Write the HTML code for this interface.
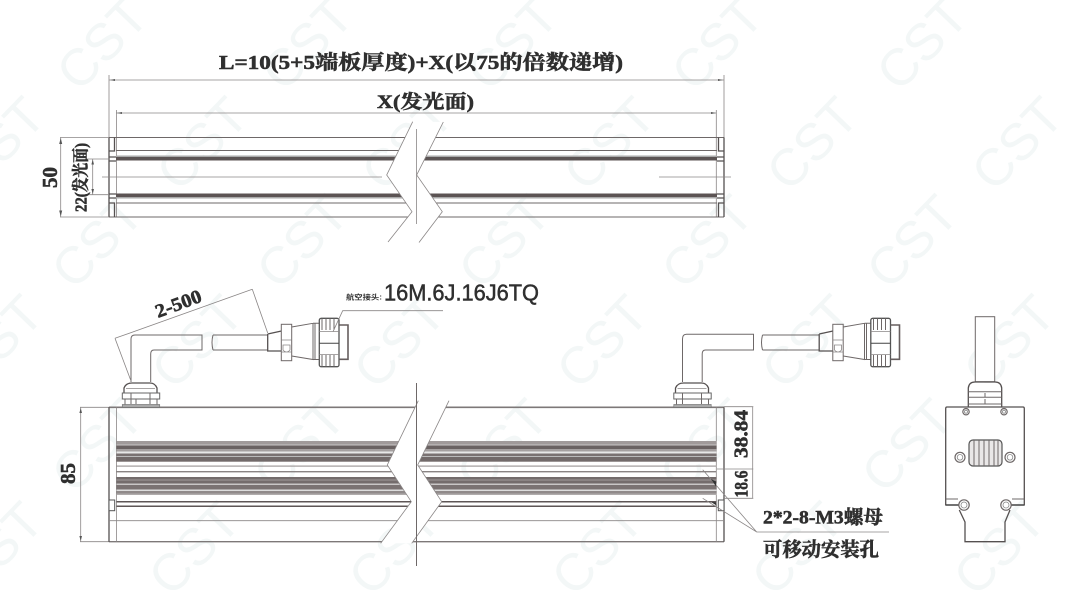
<!DOCTYPE html>
<html>
<head>
<meta charset="utf-8">
<style>
html,body{margin:0;padding:0;background:#fff;width:1083px;height:604px;overflow:hidden}
svg{display:block}
.wm text{font-family:"Liberation Sans",sans-serif;font-size:52px;fill:#f3f7f7;text-anchor:middle}
.t{font-family:"Liberation Serif","Noto Serif CJK SC",serif;font-weight:700;fill:#2f2f2f;stroke:#2f2f2f;stroke-width:.55}
.l{fill:none;stroke:#6e6868;stroke-width:1}
.d{fill:none;stroke:#8a8686;stroke-width:.8}
.k{fill:none;stroke:#555050;stroke-width:1.3}
</style>
</head>
<body>
<svg width="1083" height="604" viewBox="0 0 1083 604" xmlns="http://www.w3.org/2000/svg">
<rect width="1083" height="604" fill="#fff"/>
<g class="wm" transform="translate(10,-4)">
<text transform="translate(105,60) rotate(-46)">CST</text>
<text transform="translate(310,60) rotate(-46)">CST</text>
<text transform="translate(515,60) rotate(-46)">CST</text>
<text transform="translate(720,60) rotate(-46)">CST</text>
<text transform="translate(925,60) rotate(-46)">CST</text>
<text transform="translate(2,160) rotate(-46)">CST</text>
<text transform="translate(205,160) rotate(-46)">CST</text>
<text transform="translate(410,160) rotate(-46)">CST</text>
<text transform="translate(612,160) rotate(-46)">CST</text>
<text transform="translate(815,160) rotate(-46)">CST</text>
<text transform="translate(1020,160) rotate(-46)">CST</text>
<text transform="translate(100,258) rotate(-46)">CST</text>
<text transform="translate(305,258) rotate(-46)">CST</text>
<text transform="translate(507,258) rotate(-46)">CST</text>
<text transform="translate(710,258) rotate(-46)">CST</text>
<text transform="translate(915,258) rotate(-46)">CST</text>
<text transform="translate(0,358) rotate(-46)">CST</text>
<text transform="translate(200,358) rotate(-46)">CST</text>
<text transform="translate(402,358) rotate(-46)">CST</text>
<text transform="translate(605,358) rotate(-46)">CST</text>
<text transform="translate(810,358) rotate(-46)">CST</text>
<text transform="translate(1012,358) rotate(-46)">CST</text>
<text transform="translate(100,462) rotate(-46)">CST</text>
<text transform="translate(302,462) rotate(-46)">CST</text>
<text transform="translate(505,462) rotate(-46)">CST</text>
<text transform="translate(708,462) rotate(-46)">CST</text>
<text transform="translate(910,462) rotate(-46)">CST</text>
<text transform="translate(0,565) rotate(-46)">CST</text>
<text transform="translate(197,565) rotate(-46)">CST</text>
<text transform="translate(397,565) rotate(-46)">CST</text>
<text transform="translate(600,565) rotate(-46)">CST</text>
<text transform="translate(800,565) rotate(-46)">CST</text>
<text transform="translate(1002,565) rotate(-46)">CST</text>
</g>

<!-- TOP VIEW -->
<g>
<path class="d" d="M109 75V217M724 75V217M116.4 110V217M716.3 110V217M109 80H724M116.4 113H716.3"/>
<path fill="#555" d="M110 80l5-1v2zM723 80l-5-1v2zM117 113l5-1v2zM716 113l-5-1v2z"/>
<path d="M109 137.5H724M116 150.5H717M109 217H724" class="l" stroke-width="1.1"/>
<rect x="116" y="157" width="601" height="3.500" fill="#5c5454"/>
<rect x="116" y="155.500" width="601" height="1.500" fill="#aaa"/>
<rect x="116" y="193.500" width="601" height="3.500" fill="#5c5454"/>
<rect x="116" y="197" width="601" height="1.500" fill="#aaa"/>
<path class="l" d="M116 203H717"/>
<path class="k" d="M109 137.500V217M114.500 137.500V151H109M109 157H116M109 161H116M109 194H116M109 198H116M109 203H114.500V217"/>
<path class="k" d="M724 137.500V217M718.500 137.500V151H724M717 157H724M717 161H724M717 194H724M717 198H724M718.500 217V203H724"/>
<path class="d" d="M102 177H382M659 177H731M60 137.500H109M60 217H109M85 159H109M85 194.700H109"/>
<path class="d" d="M60.700 137.500V217M92.700 159V194.700"/>
<path fill="#555" d="M60.700 138l-1.500 6h3zM60.700 216.500l-1.500-6h3zM92.700 159.500l-1.300 5h2.600zM92.700 194l-1.300-5h2.600z"/>
<polygon fill="#fff" points="412.700,121.700 386.700,175 412,211.700 388,242 419,242.500 442.300,211.700 416.700,175 443.300,122"/>
<polyline class="d" points="412.700,121.700 386.700,175 412,211.700 388,242"/>
<polyline class="d" points="443.300,122 416.700,175 442.300,211.700 419,242.500"/>
<path class="d" d="M416.500 129V224"/>
</g>

<!-- FRONT VIEW -->
<g>
<path d="M109 407.300H724" stroke="#7d7878" stroke-width="1.600" fill="none"/>
<path d="M109 541.700H724" stroke="#7d7878" stroke-width="1.300" fill="none"/>
<path class="d" d="M80 407.300H109M80 541.700H109M80.700 407.300V541.700M116.400 407.300V541.700M716.300 407.300V541.700"/>
<path fill="#555" d="M80.700 408l-1.300 5h2.600zM80.700 541l-1.300-5h2.600z"/>
<path class="k" d="M109 407.300V541.700M724 407.300V541.700"/>
<g id="stripes">
<rect x="116.500" y="441" width="600" height="3.500" fill="#a09a9a"/>
<rect x="116.500" y="444.500" width="600" height="1" fill="#c9c6c6"/>
<rect x="116.500" y="445.500" width="600" height="3.500" fill="#6a6262"/>
<rect x="116.500" y="449" width="600" height="2.500" fill="#a5a0a0"/>
<rect x="116.500" y="451.500" width="600" height="2" fill="#e8e8e8"/>
<rect x="116.500" y="453.500" width="600" height="2.500" fill="#7a7272"/>
<rect x="116.500" y="456" width="600" height="1" fill="#bbb"/>
<rect x="116.500" y="457" width="600" height="4.700" fill="#726a6a"/>
<rect x="116.500" y="465.500" width="600" height="1.200" fill="#a09b9b"/>
<rect x="116.500" y="471" width="600" height="1.400" fill="#8a8484"/>
<rect x="116.500" y="477" width="600" height="6.500" fill="#746c6c"/>
<rect x="116.500" y="479.500" width="600" height="1" fill="#a09a9a"/>
<rect x="116.500" y="483.500" width="600" height="1.500" fill="#c9c6c6"/>
<rect x="116.500" y="485" width="600" height="4.500" fill="#7a7272"/>
<rect x="116.500" y="489.500" width="600" height="1.500" fill="#ddd"/>
<rect x="116.500" y="491" width="600" height="2.500" fill="#908a8a"/>
<rect x="116.500" y="493.500" width="600" height="1.500" fill="#b0acac"/>
<rect x="116.500" y="501" width="600" height="1.500" fill="#5e5656"/>
<rect x="116.500" y="505.500" width="600" height="1.500" fill="#5e5656"/>
</g>
<path class="d" d="M109 520.700H724"/>
<rect x="109" y="500" width="5.700" height="10.700" fill="#fff" stroke="#555" stroke-width="1"/>
<rect x="718.300" y="500" width="5.700" height="10.700" fill="#fff" stroke="#555" stroke-width="1"/>
<polygon fill="#fff" points="418.300,400.700 387.300,465 411.300,501.700 380.700,543.300 411.700,543.300 441.700,501.700 417.700,465 449,400.700"/>
<polyline class="d" points="418.300,400.700 387.300,465 411.300,501.700 380.700,543.300"/>
<polyline class="d" points="449,400.700 417.700,465 441.700,501.700 411.700,543.300"/>
<path d="M416.500 383V566" fill="none" stroke="#6e6868" stroke-width="1"/>
</g>

<!-- LEFT CABLE -->
<g id="cable">
<path class="l" d="M131 382V339Q131 335 135 335H202V350H154Q150.700 350 150.700 354V382"/>
<path class="l" d="M267.700 335H213M267.700 350H213M213 335Q211 342.500 213 350"/>
<path class="k" d="M124 393V388Q126 383 132 383H150Q155 383 157 388V393"/>
<path class="d" d="M126 388.500H155"/>
<rect x="122.300" y="393" width="37.400" height="6" fill="#fff" stroke="#666" stroke-width="1"/>
<path class="l" d="M131 393V404M150 393V404M125 399V404.500M157 399V404.500M136 399V404"/>
<rect x="122.300" y="404.500" width="37.400" height="2.800" fill="#aaa" stroke="#777" stroke-width=".7"/>
<path class="k" d="M267.700 334V351L281.500 351M267.700 334L281.500 331"/>
<rect x="281.300" y="324.300" width="10.400" height="36.400" fill="#fff" stroke="#6e6868" stroke-width="1"/>
<path class="d" d="M281.300 340H291.700M281.300 352H291.700M283 345H290V350Q286.500 354 283 350Z"/>
<path class="l" d="M291.700 327L313 323.300V359.500L291.700 356M315 323.300V359.500M313 323.300H319M313 359.500H319"/>
<rect x="319.300" y="318.300" width="19.700" height="48.400" rx="2" fill="#fff" stroke="#555" stroke-width="1.300"/>
<path class="l" d="M322 318.500V330M326 318.500V330M330 318.500V330M334 318.500V330M322 355V366.500M326 355V366.500M330 355V366.500M334 355V366.500"/>
<path class="d" d="M319.300 331.500H339"/>
<path d="M319.300 343.200H339" stroke="#444" stroke-width="1" fill="none"/>
<path class="d" d="M319.300 354.500H339"/>
<path d="M339 325H348V359.300H339" fill="none" stroke="#665e5e" stroke-width="1.600"/>
</g>
<path class="d" d="M115 338.300L252.300 289.300M115 338.300L131 381M252.300 289.300L267.700 333"/>
<path class="d" d="M443 310.700H342.700L333 331.700" stroke="#888"/>

<!-- RIGHT CABLE -->
<g transform="translate(551.500,0)">
<path class="l" d="M131 382V339Q131 334.300 135 334.300H202V350H154Q150.700 350 150.700 354V382"/>
<path class="l" d="M267.700 335H211M267.700 350H211M211 335Q209 342.500 211 350"/>
<path class="k" d="M124 393V388Q126 383 132 383H150Q155 383 157 388V393"/>
<path class="d" d="M126 388.500H155"/>
<rect x="122.300" y="393" width="37.400" height="6" fill="#fff" stroke="#666" stroke-width="1"/>
<path class="l" d="M131 393V404M150 393V404M125 399V404.500M157 399V404.500"/>
<rect x="122.300" y="404.500" width="37.400" height="2.800" fill="#aaa" stroke="#777" stroke-width=".7"/>
<path class="k" d="M267.700 334V351L281.500 351M267.700 334L281.500 331"/>
<rect x="281.300" y="324.300" width="10.400" height="36.400" fill="#fff" stroke="#6e6868" stroke-width="1"/>
<path class="d" d="M281.300 340H291.700M281.300 352H291.700M283 345H290V350Q286.500 354 283 350Z"/>
<path class="l" d="M291.700 327L313 323.300V359.500L291.700 356M315 323.300V359.500M313 323.300H319M313 359.500H319"/>
<rect x="319.300" y="318.300" width="19.700" height="48.400" rx="2" fill="#fff" stroke="#555" stroke-width="1.300"/>
<path class="l" d="M322 318.500V330M326 318.500V330M330 318.500V330M334 318.500V330M322 355V366.500M326 355V366.500M330 355V366.500M334 355V366.500"/>
<path class="d" d="M319.300 331.500H339"/>
<path d="M319.300 343.200H339" stroke="#444" stroke-width="1" fill="none"/>
<path class="d" d="M319.300 354.500H339"/>
<path d="M339 325H348V359.300H339" fill="none" stroke="#665e5e" stroke-width="1.600"/>
</g>

<!-- RIGHT DIMENSIONS -->
<path class="d" d="M724 406.700H753.300M717 469H753.300M723 498.300H753.300M752.700 406.700V498.300"/>
<path class="d" d="M702.700 469.700L756.700 532M702.700 498.300L756.700 532H889" stroke="#666"/>
<path fill="#333" d="M711 479l5 2.500v5zM711 502l5 .5 .5 3z"/>

<!-- END VIEW -->
<g>
<rect x="975.300" y="316.700" width="19.400" height="65" fill="#fff" stroke="#6e6868" stroke-width="1"/>
<path class="k" d="M968.300 407V388Q969 382 975 382H995Q1001 382 1001.700 388V407"/>
<path class="l" d="M968.300 391.700H1001.700M968.300 397.300H1001.700M968.300 404H1001.700M985 393V397M985 399V404"/>
<path class="k" d="M947 407H1023Q1024.300 407 1024.300 408.500V505.500M947 407Q945.700 407 945.700 408.500V505.500"/>
<path d="M945.700 499H958M1012 499H1024.300" stroke="#6e6868" stroke-width="1" fill="none"/>
<path d="M945.700 505H959M1011 505H1024.300" stroke="#444" stroke-width="1.400" fill="none"/>
<path class="k" d="M959.300 510L965 522V541.700H1005V522L1010 510"/>
<g fill="#fff" stroke="#6e6868" stroke-width="1.200">
<circle cx="966" cy="411.700" r="3.200"/><circle cx="1004" cy="411.700" r="3.200"/>
<circle cx="960" cy="457.300" r="5"/><circle cx="1010" cy="457.300" r="5"/>
<circle cx="964" cy="505" r="5.200"/><circle cx="1006" cy="505" r="5.200"/>
</g>
<g fill="none" stroke="#888" stroke-width=".8">
<circle cx="966" cy="411.700" r="1.500"/><circle cx="1004" cy="411.700" r="1.500"/>
<circle cx="960" cy="457.300" r="2.800"/><circle cx="1010" cy="457.300" r="2.800"/>
<circle cx="964" cy="505" r="3"/><circle cx="1006" cy="505" r="3"/>
</g>
<rect x="969" y="440" width="33" height="26" rx="4" fill="#e9e7e7" stroke="#555" stroke-width="1.200"/>
<path class="l" d="M974 440V466M979 440V466M984 440V466M989 440V466M994 440V466M998 440V466"/>
</g>

<!-- TEXT -->
<text class="t" x="219" y="69" font-size="20" textLength="404" lengthAdjust="spacingAndGlyphs">L=10(5+5端板厚度)+X(以75的倍数递增)</text>
<text class="t" x="377" y="108" font-size="19" textLength="97" lengthAdjust="spacingAndGlyphs">X(发光面)</text>
<text class="t" transform="translate(57,188) rotate(-90)" font-size="21" textLength="21" lengthAdjust="spacingAndGlyphs">50</text>
<text class="t" transform="translate(86.500,212) rotate(-90)" font-size="17" textLength="69" lengthAdjust="spacingAndGlyphs">22(发光面)</text>
<text class="t" transform="translate(75,484) rotate(-90)" font-size="21" textLength="21" lengthAdjust="spacingAndGlyphs">85</text>
<text class="t" transform="translate(158,318) rotate(-20.500)" font-size="19" textLength="48" lengthAdjust="spacingAndGlyphs">2-500</text>
<text class="t" transform="translate(747.500,458) rotate(-90)" font-size="20" textLength="48" lengthAdjust="spacingAndGlyphs">38.84</text>
<text class="t" transform="translate(747.500,497.500) rotate(-90)" font-size="19" textLength="27" lengthAdjust="spacingAndGlyphs">18.6</text>
<text class="t" x="763" y="523.500" font-size="19" textLength="120" lengthAdjust="spacingAndGlyphs">2*2-8-M3螺母</text>
<text class="t" x="763" y="556" font-size="19.500" textLength="116" lengthAdjust="spacingAndGlyphs">可移动安装孔</text>
<text x="346" y="299.500" font-family="'Liberation Sans','Noto Sans CJK SC',sans-serif" font-size="7" font-weight="700" fill="#333" textLength="36" lengthAdjust="spacingAndGlyphs">航空接头:</text>
<text x="384" y="300.500" font-family="'Liberation Sans',sans-serif" font-size="23" fill="#2f2f2f" stroke="#2f2f2f" stroke-width=".5" textLength="155" lengthAdjust="spacingAndGlyphs">16M.6J.16J6TQ</text>
</svg>
</body>
</html>
